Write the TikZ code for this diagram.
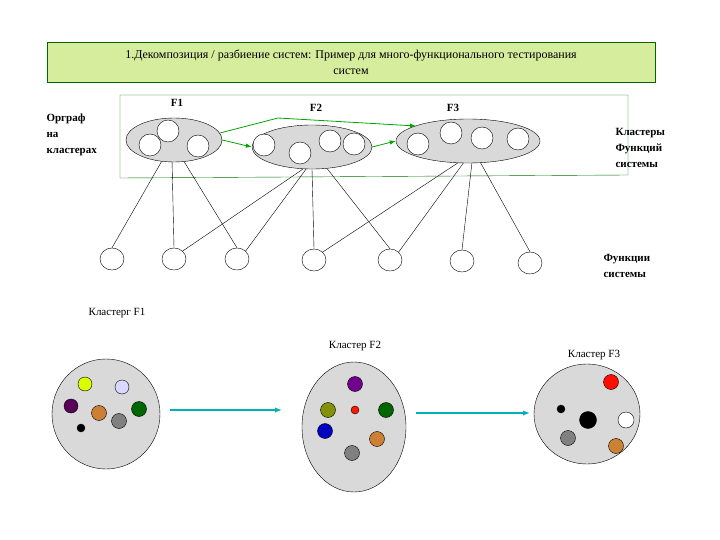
\documentclass[tikz,border=0pt]{standalone}
\usepackage{fontspec}
\setmainfont{Liberation Serif}
\usetikzlibrary{shapes.geometric,arrows.meta}
\begin{document}
\begin{tikzpicture}[x=1pt,y=-1pt,
  sm/.style={circle,draw,fill=white,minimum size=22pt,inner sep=0pt},
  fn/.style={ellipse,draw,fill=white,minimum width=24pt,minimum height=22pt,inner sep=0pt},
  grn/.style={draw=green!65!black,thick,-{Latex[length=6pt]}},
  ln/.style={draw,thin},
  dot/.style={circle,draw,minimum size=#1,inner sep=0pt},
  tarr/.style={draw=teal!60!cyan,very thick,-{Latex[length=7pt]}},
  lab/.style={font=\bfseries\fontsize{11}{16}\selectfont,align=left,anchor=west},
  kl/.style={font=\fontsize{11}{13}\selectfont}]
\useasboundingbox (0,0) rectangle (720,540);
\node[draw=green!40!black,fill=yellow!60!green!40,minimum width=608pt,minimum height=40pt,align=center,font=\fontsize{12}{16}\selectfont] (title) at (351,62) {1.Декомпозиция / разбиение систем: Пример для много-функционального тестирования\\систем};
\draw[green!45!black] (120,95) -- (628,95) -- (628,175) -- (120,178) -- cycle;
\node[font=\bfseries\fontsize{11}{13}\selectfont] (f1) at (177,103) {F1};
\node[font=\bfseries\fontsize{11}{13}\selectfont] (f2) at (316,108) {F2};
\node[font=\bfseries\fontsize{11}{13}\selectfont] (f3) at (453,108) {F3};
\node[lab] (l1) at (43,135) {Орграф\\на\\кластерах};
\node[lab] (l2) at (612,148) {Кластеры\\Функций\\системы};
\node[lab] (l3) at (600,266) {Функции\\системы};
\node[ellipse,draw,fill=black!15,minimum width=96pt,minimum height=44pt] (e1) at (174,140) {};
\node[ellipse,draw,fill=black!15,minimum width=120pt,minimum height=44pt] (e2) at (312,147) {};
\node[ellipse,draw,fill=black!15,minimum width=144pt,minimum height=44pt] (e3) at (468,141) {};
\foreach \n/\x/\y in {a1/168/131,a2/150/145,a3/198/146,b1/264/145,b2/300/153,b3/330/141,b4/354/144,c1/418/144,c2/451/133,c3/482/138,c4/518/139}
  \node[sm] (\n) at (\x,\y) {};
\coordinate (m) at (278,118);
\coordinate (s) at (220,133);
\coordinate (t) at (416,126);
\draw[grn] (e1.east) -- (e2.west);
\draw[grn] (e2.east) -- (e3.west);
\draw[grn] (s) -- (m) -- (t);
\foreach \n/\x/\y in {d1/112/259,d2/174/259,d3/237/259,d4/314/260,d5/390/260,d6/462/261,d7/530/263}
  \node[fn] (\n) at (\x,\y) {};
\draw[ln] (e1.-120) -- (d1.north);
\draw[ln] (e1.-95) -- (d2.north);
\draw[ln] (e1.-65) -- (d3.north);
\draw[ln] (e2.-112) -- (d2.north east);
\draw[ln] (e2.-105) -- (d3.north east);
\draw[ln] (e2.-90) -- (d4.north);
\draw[ln] (e2.-55) -- (d5.north);
\draw[ln] (e3.-115) -- (d4.north east);
\draw[ln] (e3.-102) -- (d5.north east);
\draw[ln] (e3.-80) -- (d6.north);
\draw[ln] (e3.-60) -- (d7.north);
\node[kl] (k1) at (117,313) {Кластерг F1};
\node[kl] (k2) at (355,346) {Кластер F2};
\node[kl] (k3) at (594,355) {Кластер F3};
\node[ellipse,draw,fill=black!15,minimum width=108pt,minimum height=110pt] (g1) at (106,414) {};
\node[ellipse,draw,fill=black!15,minimum width=104pt,minimum height=130pt] (g2) at (354,427) {};
\node[ellipse,draw,fill=black!15,minimum width=106pt,minimum height=100pt] (g3) at (587,414) {};
\coordinate (t1) at (170,410); \coordinate (t2) at (282,410);
\coordinate (t3) at (416,413); \coordinate (t4) at (530,413);
\draw[tarr] (t1) -- (t2);
\draw[tarr] (t3) -- (t4);
\foreach \n/\x/\y/\c/\s in {p1/85/384/lime!60!yellow/14pt,p2/122/387/blue!15/14pt,p3/71/406/violet!70!black/14pt,p4/99/413/brown!80!orange/15pt,p5/139/409/green!40!black/15pt,p6/119/421/gray/15pt,p7/81/428/black/8pt,
  q1/355/384/violet!90!blue/15pt,q2/328/410/olive!80!green/15pt,q3/355/410/red!80!orange/8pt,q4/386/410/green!40!black/15pt,q5/325/431/blue!75!black/15pt,q6/377/439/brown!80!orange/15pt,q7/352/453/gray/15pt,
  r1/611/382/red!90!orange/15pt,r2/561/409/black/8pt,r3/588/420/black/17pt,r4/626/420/white/16pt,r5/568/438/gray/15pt,r6/616/446/brown!80!orange/15pt}
  \node[dot=\s,fill=\c] (\n) at (\x,\y) {};
\end{tikzpicture}
\end{document}
